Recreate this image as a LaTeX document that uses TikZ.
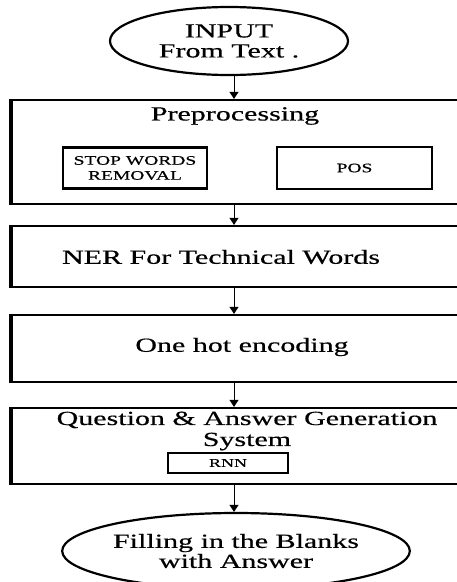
\documentclass[tikz,border=0pt]{standalone}
\usepackage{fontspec}
\setmainfont[FakeStretch=1.5,FakeBold=0.5]{Liberation Serif}
\usetikzlibrary{shapes.geometric,arrows.meta}
\tikzstyle{term}=[ellipse, draw, line width=2.2pt, minimum width=238pt, minimum height=68pt, inner sep=0pt, font=\fontsize{20}{20}\selectfont, align=center]
\tikzstyle{stage}=[rectangle, draw, line width=2.2pt, minimum width=458pt, inner sep=0pt]
\tikzstyle{sub}=[rectangle, draw, line width=2.8pt, inner sep=0pt, font=\fontsize{13}{15}\selectfont, align=center]
\tikzstyle{big}=[font=\fontsize{20}{22}\selectfont, align=center, inner sep=0pt]
\tikzstyle{flow}=[line width=1pt, -{Triangle[length=7pt,width=9pt]}]

\begin{document}
\begin{tikzpicture}[x=1pt,y=-1pt]
			\useasboundingbox (0,0) rectangle (457,582);
			\clip (0,0) rectangle (457,582);

			\node[term] (in) at (229, 41) {INPUT\\From Text .};
			\node[stage, minimum height=104pt] (pre) at (241, 152) {};
			\node[stage, minimum height=61pt] (ner) at (241, 256.5) {};
			\node[stage, minimum height=67pt] (hot) at (241, 348.5) {};
			\node[stage, minimum height=76pt] (qa) at (241, 446) {};
			\node[term, minimum width=248pt, minimum height=76pt] (out) at (236, 551) {Filling in the Blanks\\with Answer};

			% Texts
			\node[big] (preT) at (235, 116) {Preprocessing};
			\node[big] (nerT) at (221, 257) {NER For Technical Words};
			\node[big] (hotT) at (242, 347) {One hot encoding};
			\node[big, font=\fontsize{20}{21}\selectfont] (qaT) at (247, 431) {Question \& Answer Generation\\System};

			% Inner boxes
			\node[sub, minimum width=144pt, minimum height=41pt] (stop) at (135, 168) {STOP WORDS\\REMOVAL};
			\node[sub, minimum width=155pt, minimum height=42pt] (pos) at (354.5, 168) {POS};
			\node[sub, minimum width=120pt, minimum height=20pt, font=\fontsize{12}{14}\selectfont] (rnn) at (228, 463) {RNN};

			% Left bars
			\foreach \b in {pre,ner,hot,qa}
				\draw[line width=4.5pt] (\b.north west) -- (\b.south west);

			% Arrows
			\coordinate (axis) at (234, 0);
			\draw[flow] (axis |- in.south) -- (axis |- pre.north);
			\draw[flow] (axis |- pre.south) -- (axis |- ner.north);
			\draw[flow] (axis |- ner.south) -- (axis |- hot.north);
			\draw[flow] (axis |- hot.south) -- (axis |- qa.north);
			\draw[flow] (axis |- qa.south) -- (axis |- out.north);
		\end{tikzpicture}
\end{document}
